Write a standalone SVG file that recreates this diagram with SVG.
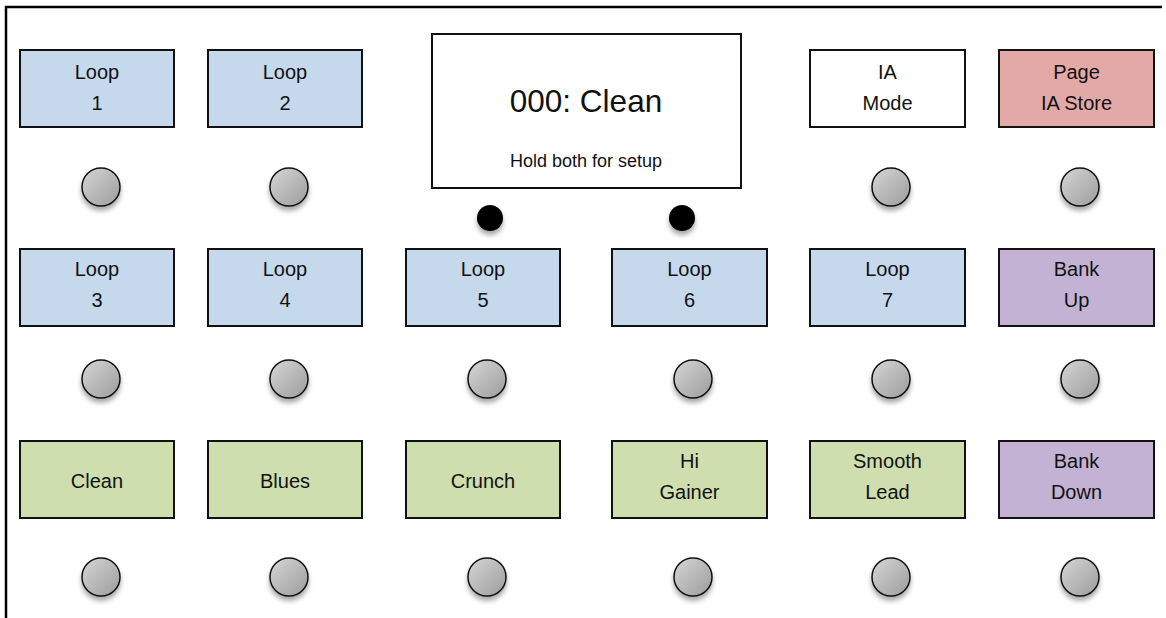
<svg xmlns="http://www.w3.org/2000/svg" width="1166" height="618" viewBox="0 0 1166 618">
<defs>
<linearGradient id="knob" x1="0" y1="0" x2="1" y2="1">
<stop offset="0" stop-color="#d6d6d6"/>
<stop offset="1" stop-color="#9c9c9c"/>
</linearGradient>
<filter id="sh" x="-50%" y="-50%" width="200%" height="220%">
<feGaussianBlur in="SourceAlpha" stdDeviation="2.5"/>
<feOffset dx="0" dy="4" result="b"/>
<feComponentTransfer><feFuncA type="linear" slope="0.35"/></feComponentTransfer>
<feMerge><feMergeNode/><feMergeNode in="SourceGraphic"/></feMerge>
</filter>
</defs>
<style>
.box{stroke:#111;stroke-width:2}
.blue{fill:#c6d8eb}
.green{fill:#cfdeae}
.pink{fill:#e3a9a7}
.purple{fill:#c3b2d4}
.white{fill:#fff}
.knob{fill:url(#knob);stroke:#111;stroke-width:1.5;filter:url(#sh)}
.dot{fill:#000;filter:url(#sh)}
text{font-family:"Liberation Sans",Arial,sans-serif;font-size:20px;fill:#111;text-anchor:middle}
.big{font-size:31.5px}
.small{font-size:18px}
</style>
<rect width="1166" height="618" fill="#fff"/>
<path d="M6,618 V7 H1162" fill="none" stroke="#000" stroke-width="2.5"/>

<g id="display"><rect class="box white" x="432" y="34" width="309" height="154"/><text class="big" x="586" y="112">000: Clean</text><text class="small" x="586" y="167">Hold both for setup</text></g>
<g id="dot1"><circle class="dot" cx="490" cy="218" r="13"/></g>
<g id="dot2"><circle class="dot" cx="682" cy="218" r="13"/></g>

<g id="loop1"><rect class="box blue" x="20" y="50" width="154" height="77"/><text x="97" y="79">Loop</text><text x="97" y="110">1</text></g>
<g id="loop2"><rect class="box blue" x="208" y="50" width="154" height="77"/><text x="285" y="79">Loop</text><text x="285" y="110">2</text></g>
<g id="iamode"><rect class="box white" x="810" y="50" width="155" height="77"/><text x="887.5" y="79">IA</text><text x="887.5" y="110">Mode</text></g>
<g id="page"><rect class="box pink" x="999" y="50" width="155" height="77"/><text x="1076.5" y="79">Page</text><text x="1076.5" y="110">IA Store</text></g>

<g id="loop3"><rect class="box blue" x="20" y="249" width="154" height="77"/><text x="97" y="276">Loop</text><text x="97" y="307">3</text></g>
<g id="loop4"><rect class="box blue" x="208" y="249" width="154" height="77"/><text x="285" y="276">Loop</text><text x="285" y="307">4</text></g>
<g id="loop5"><rect class="box blue" x="406" y="249" width="154" height="77"/><text x="483" y="276">Loop</text><text x="483" y="307">5</text></g>
<g id="loop6"><rect class="box blue" x="612" y="249" width="155" height="77"/><text x="689.5" y="276">Loop</text><text x="689.5" y="307">6</text></g>
<g id="loop7"><rect class="box blue" x="810" y="249" width="155" height="77"/><text x="887.5" y="276">Loop</text><text x="887.5" y="307">7</text></g>
<g id="bankup"><rect class="box purple" x="999" y="249" width="155" height="77"/><text x="1076.5" y="276">Bank</text><text x="1076.5" y="307">Up</text></g>

<g id="clean"><rect class="box green" x="20" y="441" width="154" height="77"/><text x="97" y="488">Clean</text></g>
<g id="blues"><rect class="box green" x="208" y="441" width="154" height="77"/><text x="285" y="488">Blues</text></g>
<g id="crunch"><rect class="box green" x="406" y="441" width="154" height="77"/><text x="483" y="488">Crunch</text></g>
<g id="higainer"><rect class="box green" x="612" y="441" width="155" height="77"/><text x="689.5" y="468">Hi</text><text x="689.5" y="499">Gainer</text></g>
<g id="smoothlead"><rect class="box green" x="810" y="441" width="155" height="77"/><text x="887.5" y="468">Smooth</text><text x="887.5" y="499">Lead</text></g>
<g id="bankdown"><rect class="box purple" x="999" y="441" width="155" height="77"/><text x="1076.5" y="468">Bank</text><text x="1076.5" y="499">Down</text></g>

<g id="knobs-row1">
<circle class="knob" cx="101" cy="187" r="19"/>
<circle class="knob" cx="289" cy="187" r="19"/>
<circle class="knob" cx="891" cy="187" r="19"/>
<circle class="knob" cx="1080" cy="187" r="19"/>
</g>
<g id="knobs-row2">
<circle class="knob" cx="101" cy="379" r="19"/>
<circle class="knob" cx="289" cy="379" r="19"/>
<circle class="knob" cx="487" cy="379" r="19"/>
<circle class="knob" cx="693" cy="379" r="19"/>
<circle class="knob" cx="891" cy="379" r="19"/>
<circle class="knob" cx="1080" cy="379" r="19"/>
</g>
<g id="knobs-row3">
<circle class="knob" cx="101" cy="577" r="19"/>
<circle class="knob" cx="289" cy="577" r="19"/>
<circle class="knob" cx="487" cy="577" r="19"/>
<circle class="knob" cx="693" cy="577" r="19"/>
<circle class="knob" cx="891" cy="577" r="19"/>
<circle class="knob" cx="1080" cy="577" r="19"/>
</g>
<g id="connectors"/>
</svg>
